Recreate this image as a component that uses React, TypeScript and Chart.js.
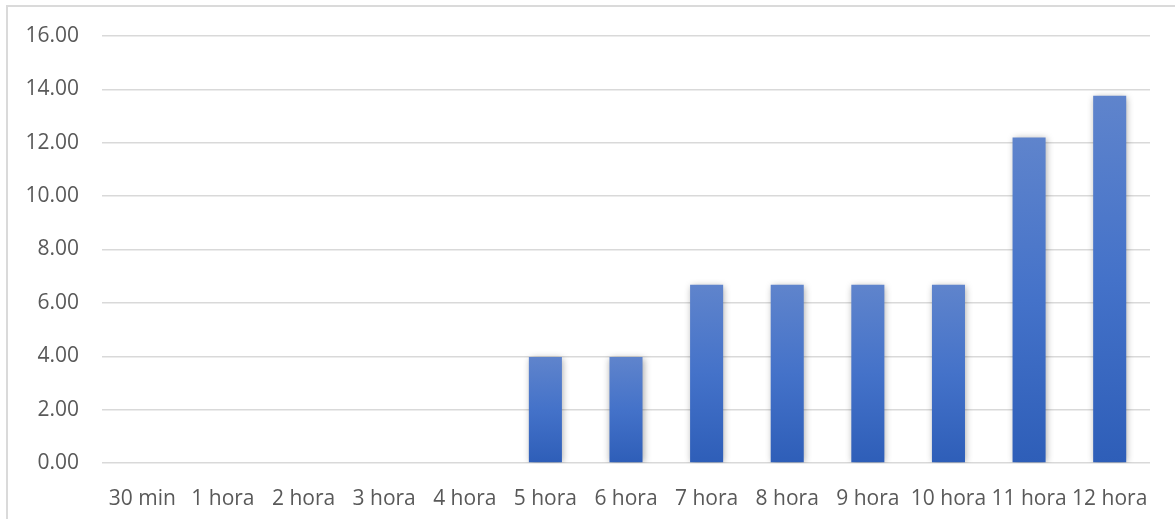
import React, { useEffect, useRef } from "react";
import { Chart, registerables } from "chart.js";

Chart.register(...registerables);

const categories = ["30 min", "1 hora", "2 hora", "3 hora", "4 hora", "5 hora", "6 hora", "7 hora", "8 hora", "9 hora", "10 hora", "11 hora", "12 hora"];
const values = [0, 0, 0, 0, 0, 3.97, 3.97, 6.68, 6.68, 6.68, 6.68, 12.2, 13.76];
const yMax = 16;
const yStep = 2;

const FONT = "'Open Sans', 'Noto Sans', sans-serif";

const shadowPlugin = {
  id: "barShadow",
  beforeDatasetsDraw(chart: any) {
    const ctx = chart.ctx;
    ctx.save();
    ctx.shadowColor = "rgba(0,0,0,0.35)";
    ctx.shadowBlur = 7;
    ctx.shadowOffsetX = 1;
    ctx.shadowOffsetY = 1;
  },
  afterDatasetsDraw(chart: any) {
    chart.ctx.restore();
  },
};

export default function App() {
  const ref = useRef<HTMLCanvasElement | null>(null);

  useEffect(() => {
    if (!ref.current) return;
    const chart = new Chart(ref.current, {
      type: "bar",
      data: {
        labels: categories,
        datasets: [
          {
            data: values,
            backgroundColor: (c: any) => {
              const area = c.chart.chartArea;
              const ys = c.chart.scales?.y;
              if (!area || !ys || c.type !== "data") return "#4472c4";
              const top = ys.getPixelForValue(c.raw);
              const bottom = ys.getPixelForValue(0);
              if (bottom - top < 1) return "#4472c4";
              const g = c.chart.ctx.createLinearGradient(0, top, 0, bottom);
              g.addColorStop(0, "#5f84cc");
              g.addColorStop(0.5, "#4472c9");
              g.addColorStop(1, "#2e5eb8");
              return g;
            },
            barPercentage: 0.41,
            categoryPercentage: 1,
            borderWidth: 0,
          },
        ],
      },
      options: {
        animation: false,
        responsive: true,
        maintainAspectRatio: false,
        layout: { padding: { left: 0, right: 25, top: 36, bottom: 0 } },
        plugins: { legend: { display: false }, tooltip: { enabled: false } },
        scales: {
          x: {
            grid: { display: false },
            border: { display: false },
            ticks: { color: "#595959", font: { family: FONT, size: 21 }, padding: 15, maxRotation: 0, autoSkip: false },
            afterFit: (s: any) => { s.height = 56; },
          },
          y: {
            min: 0,
            max: yMax,
            grid: { color: "#d9d9d9", lineWidth: 1.5, drawTicks: false },
            border: { display: false },
            ticks: {
              stepSize: yStep,
              color: "#595959",
              font: { family: FONT, size: 21 },
              padding: 23,
              callback: (v: any) => Number(v).toFixed(2),
            },
            afterFit: (s: any) => { s.width = 102; },
          },
        },
      },
      plugins: [shadowPlugin],
    });
    return () => chart.destroy();
  }, []);

  return (
    <div style={{ position: "fixed", left: 0, top: 0, width: 1175, height: 519, background: "#fff", overflow: "hidden" }}>
      <div style={{ position: "absolute", left: 6, top: 5, width: 1200, height: 600, borderLeft: "2px solid #dadada", borderTop: "2px solid #dadada" }} />
      <div style={{ position: "absolute", left: 0, top: 0, width: 1175, height: 519 }}>
        <canvas ref={ref} />
      </div>
    </div>
  );
}
